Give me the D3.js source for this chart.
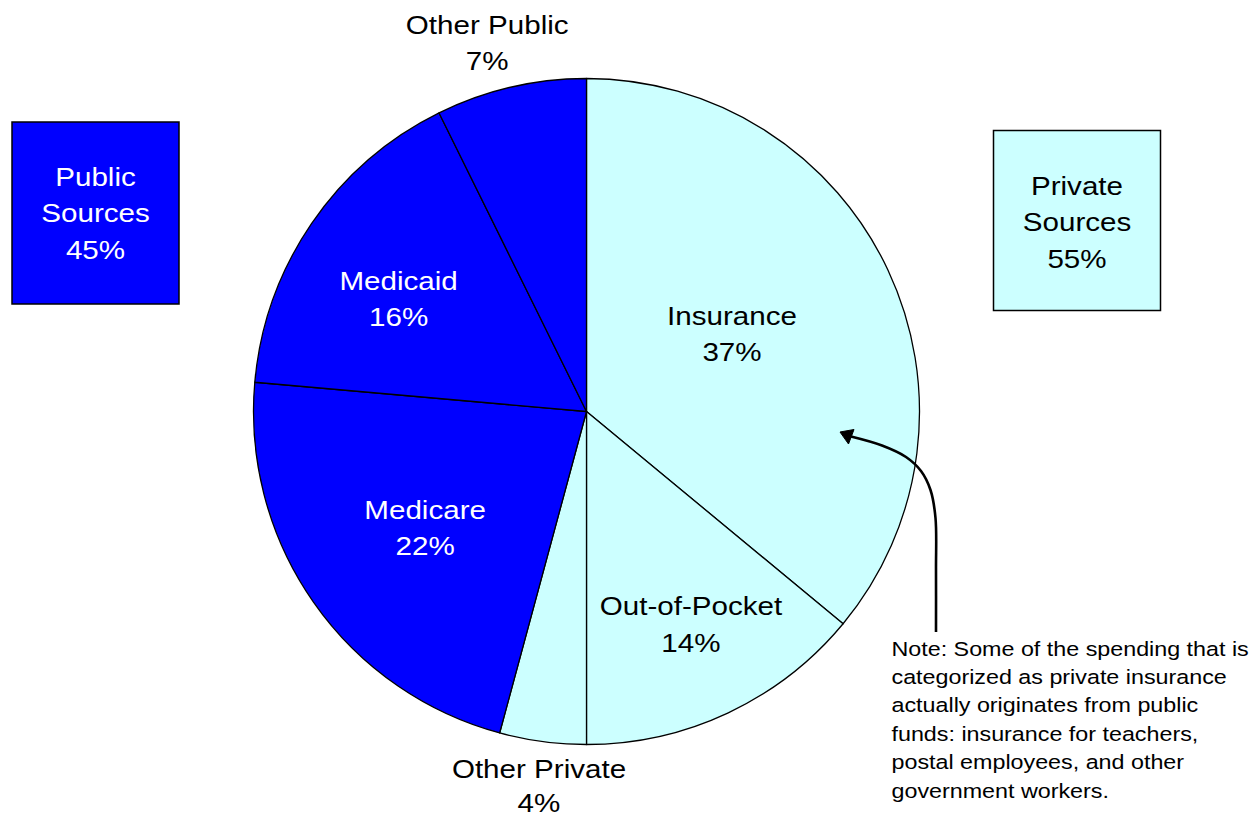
<!DOCTYPE html>
<html><head><meta charset="utf-8">
<script src="https://cdn.jsdelivr.net/npm/d3@7"></script>
<style>html,body{margin:0;padding:0;background:#fff;} svg{display:block;}</style>
</head><body>
<svg id="chart" width="1249" height="817"></svg>
<script>
// ---- data ----
const categories = ["Insurance", "Out-of-Pocket", "Other Private", "Medicare", "Medicaid", "Other Public"];
const values = [36.0, 14.0, 4.2, 22.2, 16.3, 7.3];
const valueLabels = ["37%", "14%", "4%", "22%", "16%", "7%"];
const sectors = ["Private", "Private", "Private", "Public", "Public", "Public"];
const groupNames = ["Public", "Private"];
const groupLabels = [["Public", "Sources", "45%"], ["Private", "Sources", "55%"]];
const noteLines = [
  "Note: Some of the spending that is",
  "categorized as private insurance",
  "actually originates from public",
  "funds: insurance for teachers,",
  "postal employees, and other",
  "government workers."
];

// ---- layout / style ----
const W = 1249, H = 817;
const cx = 586.5, cy = 411.5, R = 333;
const colors = { Public: "#0000FF", Private: "#CCFFFF" };
const textColors = { Public: "#FFFFFF", Private: "#000000" };
const FONT = "'Liberation Sans', Arial, sans-serif";
const labelSize = 25.5, labelSX = 1.16, labelLH = 36.5;
const noteSize = 19.5, noteSX = 1.195, noteLH = 28.5;
// label distance from centre and small angle nudge (degrees), per slice
const labelDist = [160.8, 245.3, 386.5, 204.3, 214.6, 372.9];
const labelNudge = [0, 0, -0.5, -2.9, -5.5, -2.3];
const labelLineH = [36.5, 36.5, 34.5, 36.5, 36.5, 36.5];
const labelOutside = [false, false, true, false, false, true];

const svg = d3.select("#chart");

function multiText(parent, x, y0, lines, size, sx, fill, lh, anchor) {
  const g = parent.append("g").attr("transform", `translate(${x},${y0}) scale(${sx},1)`);
  const t = g.append("text")
    .attr("font-family", FONT)
    .attr("font-size", size)
    .attr("fill", fill)
    .attr("text-anchor", anchor || "middle");
  lines.forEach((s, i) => {
    t.append("tspan").attr("x", 0).attr("y", i * lh).text(s);
  });
  return g;
}

// ---- pie ----
const pie = d3.pie().sort(null).value(d => d).startAngle(0).endAngle(2 * Math.PI);
const arcs = pie(values);
const arc = d3.arc().innerRadius(0).outerRadius(R);

const gPie = svg.append("g").attr("transform", `translate(${cx},${cy})`);
gPie.selectAll("path.slice")
  .data(arcs)
  .join("path")
  .attr("class", "slice")
  .attr("d", arc)
  .attr("fill", (d, i) => colors[sectors[i]])
  .attr("stroke", "#000")
  .attr("stroke-width", 1.3)
  .attr("stroke-linejoin", "round");

arcs.forEach((d, i) => {
  const a = (d.startAngle + d.endAngle) / 2 + labelNudge[i] * Math.PI / 180;
  const x = cx + labelDist[i] * Math.sin(a);
  const y = cy - labelDist[i] * Math.cos(a);
  const fill = labelOutside[i] ? "#000" : textColors[sectors[i]];
  multiText(svg, x, y - labelLineH[i] / 2, [categories[i], valueLabels[i]], labelSize, labelSX, fill, labelLineH[i]);
});

// ---- group boxes ----
const boxes = [
  { x: 12, y: 122, w: 167, h: 182, ty: 186 },
  { x: 993.5, y: 130.5, w: 167, h: 180, ty: 195 }
];
groupNames.forEach((gname, i) => {
  const b = boxes[i];
  svg.append("rect")
    .attr("x", b.x).attr("y", b.y).attr("width", b.w).attr("height", b.h)
    .attr("fill", colors[gname]).attr("stroke", "#000").attr("stroke-width", 1.5);
  multiText(svg, b.x + b.w / 2, b.ty, groupLabels[i], labelSize, labelSX, textColors[gname], labelLH);
});

// ---- note and arrow ----
multiText(svg, 891.5, 655.5, noteLines, noteSize, noteSX, "#000", noteLH, "start");

const arrowPts = [[936, 632], [936, 570], [935.5, 518], [930.5, 490], [921, 471], [906, 457], [882, 445.5], [851, 436.5]];
svg.append("path")
  .attr("d", d3.line().curve(d3.curveCatmullRom)(arrowPts))
  .attr("fill", "none").attr("stroke", "#000").attr("stroke-width", 2.6);
svg.append("path")
  .attr("d", "M840,432 L854,429.5 L848.5,444 Z")
  .attr("fill", "#000").attr("stroke", "#000").attr("stroke-width", 1);
</script>
</body></html>
